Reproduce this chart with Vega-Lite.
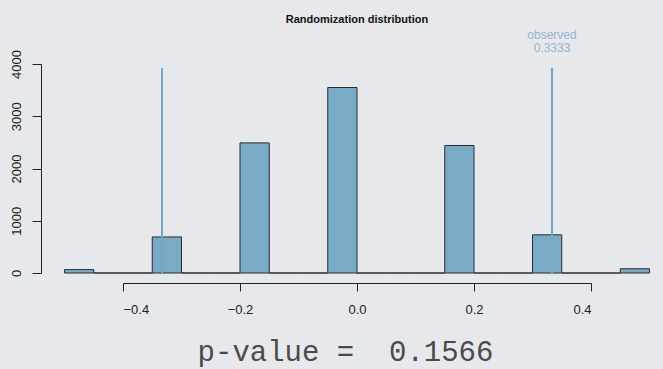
{
  "$schema": "https://vega.github.io/schema/vega-lite/v6.json",
  "autosize": {"type": "none"},
  "padding": {"left": 123, "top": 64, "right": 72, "bottom": 96},
  "width": 468,
  "height": 209,
  "background": "#e7e8ec",
  "title": {
    "text": "Randomization distribution",
    "font": "Liberation Sans",
    "fontSize": 11,
    "fontWeight": "bold",
    "color": "#111",
    "frame": "group",
    "anchor": "middle",
    "offset": 4
  },
  "datasets": {
    "bins": [
      {"start": -0.5, "end": -0.45, "count": 65},
      {"start": -0.45, "end": -0.4, "count": 0},
      {"start": -0.4, "end": -0.35, "count": 0},
      {"start": -0.35, "end": -0.3, "count": 690},
      {"start": -0.3, "end": -0.25, "count": 0},
      {"start": -0.25, "end": -0.2, "count": 0},
      {"start": -0.2, "end": -0.15, "count": 2490},
      {"start": -0.15, "end": -0.1, "count": 0},
      {"start": -0.1, "end": -0.05, "count": 0},
      {"start": -0.05, "end": 0, "count": 3550},
      {"start": 0, "end": 0.05, "count": 0},
      {"start": 0.05, "end": 0.1, "count": 0},
      {"start": 0.1, "end": 0.15, "count": 0},
      {"start": 0.15, "end": 0.2, "count": 2440},
      {"start": 0.2, "end": 0.25, "count": 0},
      {"start": 0.25, "end": 0.3, "count": 0},
      {"start": 0.3, "end": 0.35, "count": 730},
      {"start": 0.35, "end": 0.4, "count": 0},
      {"start": 0.4, "end": 0.45, "count": 0},
      {"start": 0.45, "end": 0.5, "count": 81}
    ],
    "lines": [
      {"stat": -0.3333, "top": 3925},
      {"stat": 0.3333, "top": 3925}
    ],
    "labels": [
      {"stat": 0.3333, "y": 4556, "text": "observed"},
      {"stat": 0.3333, "y": 4308, "text": "0.3333"}
    ]
  },
  "layer": [
    {
      "data": {"name": "bins"},
      "mark": {"type": "rect", "fill": "#79abc7", "stroke": "#2a2a2a", "strokeWidth": 1},
      "encoding": {
        "x": {
          "field": "start",
          "type": "quantitative",
          "scale": {"domain": [-0.4, 0.4], "nice": false, "zero": false},
          "axis": {
            "values": [-0.4, -0.2, 0, 0.2, 0.4],
            "format": ".1f",
            "offset": 10,
            "tickSize": 8,
            "labelPadding": 12,
            "title": "p-value =\u00a0 0.1566",
            "titleFont": "Liberation Mono",
            "titleFontSize": 29,
            "titleFontWeight": "normal",
            "titleColor": "#4a4a4a",
            "titlePadding": 21,
            "titleX": 222
          }
        },
        "x2": {"field": "end"},
        "y": {
          "field": "count",
          "type": "quantitative",
          "scale": {"domain": [0, 4000], "nice": false},
          "axis": {
            "values": [0, 1000, 2000, 3000, 4000],
            "format": "d",
            "offset": 82,
            "tickSize": 9,
            "labelAngle": -90,
            "labelAlign": "center",
            "labelBaseline": "bottom",
            "labelPadding": 9,
            "title": null
          }
        },
        "y2": {"datum": 0}
      }
    },
    {
      "data": {"name": "lines"},
      "mark": {"type": "rule", "color": "#74a8c9", "strokeWidth": 2},
      "encoding": {
        "x": {"field": "stat", "type": "quantitative"},
        "y": {"field": "top", "type": "quantitative"},
        "y2": {"datum": 0}
      }
    },
    {
      "data": {"name": "labels"},
      "mark": {"type": "text", "color": "#93b5cd", "font": "Liberation Sans", "fontSize": 12, "align": "center", "baseline": "middle"},
      "encoding": {
        "x": {"field": "stat", "type": "quantitative"},
        "y": {"field": "y", "type": "quantitative"},
        "text": {"field": "text"}
      }
    }
  ],
  "config": {
    "view": {"stroke": null},
    "axis": {
      "grid": false,
      "domainColor": "#222",
      "tickColor": "#222",
      "labelColor": "#222",
      "labelFont": "Liberation Sans",
      "labelFontSize": 13
    }
  }
}
